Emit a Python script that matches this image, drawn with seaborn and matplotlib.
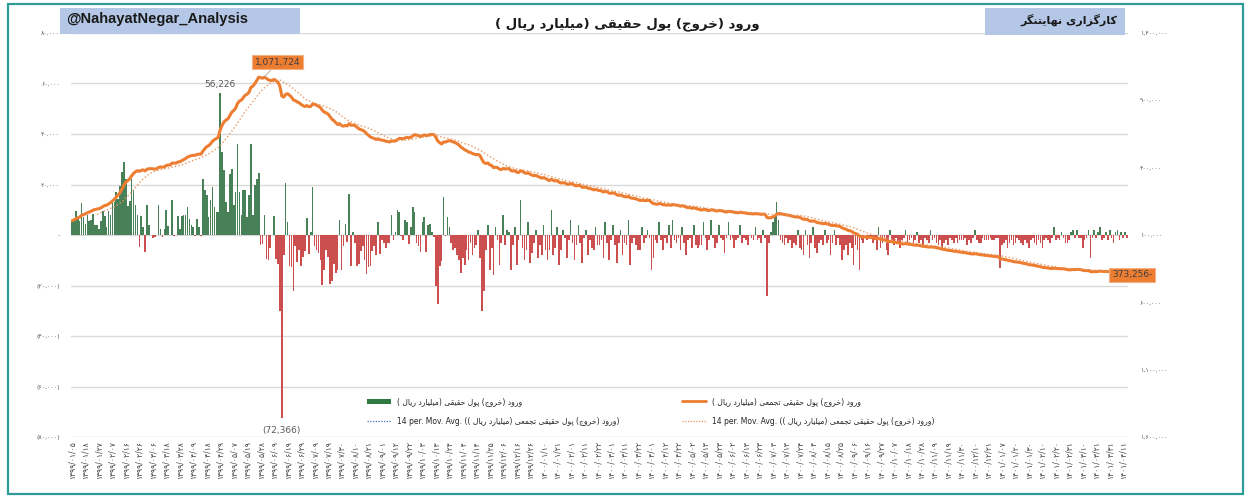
import numpy as np
import pandas as pd
import seaborn as sns
import matplotlib.pyplot as plt
from matplotlib.lines import Line2D
from matplotlib.patches import Patch, Rectangle
from matplotlib.ticker import FuncFormatter

############################## data ##############################
# daily net real-money inflow, in thousand billion rials (read off the chart)
flow_k = [
    5.5, 6.0, 9.5, 6.5, 5.5, 12.5, 7.0, 4.5, 8.0, 5.5,
    6.0, 8.5, 4.0, 4.0, 2.5, 5.7, 9.6, 7.7, 3.0, 9.6,
    8.0, 13.6, 12.9, 17.0, 14.3, 19.6, 25.0, 29.0, 22.0, 11.5,
    13.6, 22.0, 18.0, 12.0, 8.0, -4.9, 7.5, 3.0, -6.9, 12.0,
    4.0, 0.0, -1.0, -0.8, 0.0, 11.7, 2.5, -0.8, 2.5, 10.0,
    3.7, 0.0, 14.0, -0.3, 0.0, 7.7, 2.5, 7.5, 8.0, 8.0,
    11.0, 6.5, 4.0, 3.0, -0.5, 6.5, 3.0, -0.5, 22.0, 18.0,
    16.0, 7.0, 14.0, 19.0, 11.0, 9.0, 9.0, 56.226, 33.0, 25.6,
    13.0, 9.0, 24.0, 26.0, 12.0, 17.0, 36.0, 17.0, 8.0, 18.0,
    18.0, 7.0, 16.0, 36.0, 8.0, 20.0, 22.0, 24.4, -4.0, -3.5,
    8.0, -9.5, -10.0, -5.0, 0.0, 7.7, -9.5, -11.5, -30.0, -72.366,
    -8.1, 20.5, 5.3, -12.2, -12.8, -22.3, -4.2, -10.5, -5.9, -12.2,
    -8.8, -6.5, 6.6, -7.6, 1.1, 19.0, -4.2, -5.9, -7.0, -9.8,
    -19.8, -13.8, -5.9, -8.7, -19.3, -18.3, -11.5, -14.9, -13.8, 6.0,
    -13.8, -4.2, 4.4, -2.6, 16.4, -12.2, 1.1, -3.1, -12.2, -11.5,
    -6.5, -4.2, -9.8, -15.4, -12.8, -12.2, -6.5, -4.2, -8.1, 5.3,
    -7.6, -2.0, -3.0, -5.0, -3.0, -3.0, 8.0, -2.0, 1.0, 10.0,
    9.0, -0.5, -2.0, 6.0, 5.0, -3.5, 3.0, 11.0, 9.0, -3.0,
    -4.2, -6.6, 5.3, 7.0, -6.6, 4.0, 4.4, 1.1, -0.9, -20.0,
    -27.4, -12.3, -10.2, 15.1, -0.5, 7.0, 3.0, -3.0, -6.0, -5.0,
    -8.0, -10.0, -15.0,
    -9, -12, -6, -10, -3, -8, -5, -4, 2, -9,
    -30, -22, -6, 4, -14, -5, -16, 3, -2, -12, -3, 8, -4, 2, 1,
    -14, -4, 3, -12, -2, 14, -5, -10, -6, 5, -11, -7, -3, 2, -9, -4, -8, 4, -6, -10, -6,
    10, -8, -5, 3, -12, -6, 2, -1, -9, -2, 6, -3, -10, -4, 4, -3, -11, -1, 2, -8, -2, -5, -6, 3, -4, -4,
    -2, -9, 5, -3, -10, -2, 4, -4, -11, -3, 2, -8, -3, -4, 6, -12, -3, -1, -4, -6, -6, 3, -3, -1, 2, -1,
    -14, -9, -2, -3, 5, -2, -6, -1, -3, 4, -5, 6, -2, -3, -1, -6, 3, -3, -8, -2, -1, -5, 4, -4, -5, -4,
    -4, 5, -1, -6, -2, 6, -1, -5, -3, 4, -1, -2, -7, -1, 5, -2, -1, -5, -2, -1, 4, -3, -1, -2, -4, 0,
    -1, -2, 3, -2, -1, -3, 2, -1, -24, -3, 1, 5, 8, 13, 6, -2, -3, -4, -1, -3, -2, -5, -3, -4, 2, -5,
    -6, -8, 2, -4, -9, -3, 3, -5, -7, -3, -2, -4, 2, -3, -2, -8, -3, 2, -4, -1, -4,
    -10, -6, -4, -8, -3, -5, -12, -4, -6, -14, -2, -3, 0, -2, -1, -1,
    -3, -2, -6, 3, -5, -3, -2, -6, -8, 2, -2, -4, -1, -3, -5,
    -2, -1, 2, -3, -2, -1, -4, -2, 1, -3, -2, -4, -1, -2, -3, 2, -2, -1, -3, -4, -2, -5, -3, -2, -4, -1,
    -2, -3, -1, -3, -2, -2, -2, -1, -4, -2, -3, -1, 2, -2, -3, -3, -1, -2, -2, -2, -1, -2, -2, -1, -1, -13,
    -4, -3, -2, -5, -3, -2, -4, -3, -1, -2, -3, -4, -2, -3, -5, -2, -1, -3, -4, -2, -3, -5, -2, -1, -2, -3,
    -1, 3, -2, -1, -2, 1, -1, -3, -3, -2, 1, 2, -1, 2, -1, -1,
    -5, -2, -1, 2, -9, -1, 2, -1, 1, 3, -2, -1, 1, -2, 2, -1, -3, 1, 2, -2, 1, -1, 1, -1,
]

# one date label every 7 trading days
tick_dates = [
    '1399/01/05', '1399/01/18', '1399/01/27', '1399/02/07', '1399/02/16', '1399/02/26', '1399/03/06', '1399/03/18', '1399/03/28', '1399/04/09',
    '1399/04/18', '1399/04/29', '1399/05/07', '1399/05/19', '1399/05/28', '1399/06/09', '1399/06/19', '1399/06/29', '1399/07/09', '1399/07/19',
    '1399/07/30', '1399/08/10', '1399/08/21', '1399/09/01', '1399/09/12', '1399/09/22', '1399/10/03', '1399/10/13', '1399/10/24', '1399/11/04',
    '1399/11/14', '1399/11/25', '1399/12/06', '1399/12/16', '1399/12/26', '1400/01/10', '1400/01/21', '1400/02/01', '1400/02/11', '1400/02/22',
    '1400/03/01', '1400/03/11', '1400/03/22', '1400/04/01', '1400/04/12', '1400/04/22', '1400/05/02', '1400/05/13', '1400/05/23', '1400/06/02',
    '1400/06/13', '1400/06/23', '1400/07/03', '1400/07/13', '1400/07/24', '1400/08/04', '1400/08/15', '1400/08/25', '1400/09/06', '1400/09/16',
    '1400/09/27', '1400/10/07', '1400/10/18', '1400/10/28', '1400/11/09', '1400/11/19', '1400/11/30', '1400/12/10', '1400/12/21', '1401/01/07',
    '1401/01/20', '1401/01/30', '1401/02/10', '1401/02/20', '1401/02/31', '1401/03/10', '1401/03/21', '1401/03/31', '1401/04/11',
]

peak_label = '1,071,724'
end_label = '373,256-'

handle_txt = '@NahayatNegar_Analysis'
title_fa = 'ورود (خروج) پول حقیقی (میلیارد ریال )'
broker_fa = 'کارگزاری نهایتنگر'
flow_name = 'ورود (خروج) پول حقیقی (میلیارد ریال )'
cum_name = 'ورود (خروج) پول حقیقی تجمعی (میلیارد ریال )'
ma_name = '(ورود (خروج) پول حقیقی تجمعی (میلیارد ریال ))'

############################## persian text helpers ##############################
# matplotlib has no arabic shaping, so pick presentation forms by hand and reverse
FORMS = {
    '\u0627': ('\uFE8D', '\uFE8E', None, None),
    '\u0628': ('\uFE8F', '\uFE90', '\uFE91', '\uFE92'),
    '\u067E': ('\uFB56', '\uFB57', '\uFB58', '\uFB59'),
    '\u062A': ('\uFE95', '\uFE96', '\uFE97', '\uFE98'),
    '\u062C': ('\uFE9D', '\uFE9E', '\uFE9F', '\uFEA0'),
    '\u062D': ('\uFEA1', '\uFEA2', '\uFEA3', '\uFEA4'),
    '\u062E': ('\uFEA5', '\uFEA6', '\uFEA7', '\uFEA8'),
    '\u062F': ('\uFEA9', '\uFEAA', None, None),
    '\u0631': ('\uFEAD', '\uFEAE', None, None),
    '\u0632': ('\uFEAF', '\uFEB0', None, None),
    '\u0639': ('\uFEC9', '\uFECA', '\uFECB', '\uFECC'),
    '\u0642': ('\uFED5', '\uFED6', '\uFED7', '\uFED8'),
    '\u06A9': ('\uFB8E', '\uFB8F', '\uFB90', '\uFB91'),
    '\u06AF': ('\uFB92', '\uFB93', '\uFB94', '\uFB95'),
    '\u0644': ('\uFEDD', '\uFEDE', '\uFEDF', '\uFEE0'),
    '\u0645': ('\uFEE1', '\uFEE2', '\uFEE3', '\uFEE4'),
    '\u0646': ('\uFEE5', '\uFEE6', '\uFEE7', '\uFEE8'),
    '\u0647': ('\uFEE9', '\uFEEA', '\uFEEB', '\uFEEC'),
    '\u0648': ('\uFEED', '\uFEEE', None, None),
    '\u06CC': ('\uFBFC', '\uFBFD', '\uFBFE', '\uFBFF'),
}


def rtl(s):
    s = s.replace('\u064A', '\u06CC').replace('\u0643', '\u06A9')
    out = []
    for i, ch in enumerate(s):
        if ch not in FORMS:
            out.append(ch)
            continue
        f = FORMS[ch]
        prev = s[i - 1] if i > 0 else ''
        nxt = s[i + 1] if i + 1 < len(s) else ''
        jp = prev in FORMS and FORMS[prev][2] is not None
        jn = nxt in FORMS and f[2] is not None
        if jp and jn:
            out.append(f[3])
        elif jp:
            out.append(f[1])
        elif jn:
            out.append(f[2])
        else:
            out.append(f[0])
    vis = ''.join(out)[::-1]
    return vis.translate(str.maketrans('()', ')('))


FA = str.maketrans('0123456789', '۰۱۲۳۴۵۶۷۸۹')

############################## series ##############################
flow = np.array(flow_k) * 1000
n = len(flow)
day = np.arange(n)
cum = np.cumsum(flow)
ma14 = pd.Series(cum).rolling(14).mean()
df = pd.DataFrame({'day': day, 'flow': flow, 'sign': np.where(flow >= 0, 'in', 'out')})

GREEN = '#3f8a54'
RED = '#e03a3a'
ORANGE = '#ED7D31'

sns.set_style('white')
plt.rcParams['font.family'] = ['DejaVu Sans']

fig = plt.figure(figsize=(12.5, 4.98), dpi=100)
ax = fig.add_axes([71 / 1250, 1 - 437 / 498, (1128 - 71) / 1250, (437 - 33) / 498])

sns.barplot(data=df, x='day', y='flow', hue='sign', palette={'in': GREEN, 'out': RED},
            native_scale=True, width=0.85, dodge=False, legend=False, errorbar=None,
            linewidth=0, ax=ax)

ax2 = ax.twinx()
sns.lineplot(x=day, y=cum, color=ORANGE, lw=2.2, ax=ax2)
sns.lineplot(x=day, y=ma14, color='#E8965F', lw=1.0, linestyle=(0, (1, 1.6)), ax=ax2)

# axes
ax.set_xlim(-0.5, n - 0.5)
ax.set_ylim(-80000, 80000)
ax.set_yticks(np.arange(-80000, 80001, 20000))
ax2.set_ylim(-1600000, 1400000)
ax2.set_yticks(np.arange(-1600000, 1400001, 500000))


def left_fmt(v, pos):
    if v == 0:
        return '-'
    s = f'{abs(v):,.0f}'.translate(FA)
    return s if v > 0 else '(' + s + ')'


def right_fmt(v, pos):
    return f'{abs(v):,.0f}'.translate(FA)


ax.yaxis.set_major_formatter(FuncFormatter(left_fmt))
ax2.yaxis.set_major_formatter(FuncFormatter(right_fmt))
ax.set_xticks(range(0, n, 7))
ax.set_xticklabels([d.translate(FA) for d in tick_dates], rotation=90)
ax.tick_params(axis='x', length=0, labelsize=5.5, labelcolor='#404040', pad=3)
ax.tick_params(axis='y', length=0, labelsize=4.5, labelcolor='#595959', pad=8)
ax2.tick_params(axis='y', length=0, labelsize=4.5, labelcolor='#595959', pad=8.5)
ax.set_xlabel('')
ax.set_ylabel('')
ax2.set_ylabel('')
ax.set_axisbelow(True)
ax.grid(axis='y', color='#d9d9d9', lw=1.0)
ax.grid(axis='x', visible=False)
for a in (ax, ax2):
    for sp in a.spines.values():
        sp.set_visible(False)

# data labels
imax = int(np.argmax(flow))
imin = int(np.argmin(flow))
ax.annotate(f'{flow[imax]:,.0f}', xy=(imax, flow[imax]), xytext=(0, 9), textcoords='offset pixels',
            ha='center', va='center', fontsize=6.5, color='#595959')
ax.annotate(f'({-flow[imin]:,.0f})', xy=(imin, flow[imin]), xytext=(0, -13), textcoords='offset pixels',
            ha='center', va='center', fontsize=6.5, color='#595959')

ipk = int(np.argmax(cum))
ax2.annotate(peak_label, xy=(ipk, cum[ipk]), xytext=(13, 15), textcoords='offset pixels',
             ha='center', va='center', fontsize=6.5, color='#404040',
             bbox=dict(boxstyle='square,pad=0.3', fc=ORANGE, ec='#f4b183', lw=0.8),
             arrowprops=dict(arrowstyle='-', color='#a6a6a6', lw=0.6, shrinkA=0, shrinkB=0))
ax2.annotate(end_label, xy=(n - 1, cum[-1]), xytext=(5, -3), textcoords='offset pixels',
             ha='center', va='center', fontsize=6.5, color='#404040',
             bbox=dict(boxstyle='square,pad=0.3', fc=ORANGE, ec='#f4b183', lw=0.8))

# legend
handles = [Patch(facecolor='#2f7a40', edgecolor='none'),
           Line2D([], [], color='#4472C4', lw=0.9, linestyle=(0, (1, 1.2))),
           Line2D([], [], color=ORANGE, lw=2),
           Line2D([], [], color='#E8965F', lw=0.9, linestyle=(0, (1, 1.2)))]
labels = [rtl(flow_name), '14 per. Mov. Avg. ' + rtl(ma_name), rtl(cum_name), '14 per. Mov. Avg. ' + rtl(ma_name)]
ax2.legend(handles, labels, ncol=2, loc='upper left', bbox_to_anchor=(367 / 1250, 1 - 397 / 498),
           bbox_transform=fig.transFigure, frameon=False, fontsize=5.5, handlelength=3.1,
           columnspacing=8.2, labelspacing=1.45, borderpad=0, borderaxespad=0)

# header boxes and title
fig.add_artist(Rectangle((60 / 1250, 1 - 34 / 498), 240 / 1250, 26 / 498, transform=fig.transFigure,
                         fc='#B4C7E7', ec='none', zorder=5))
fig.text(66 / 1250, 1 - 19 / 498, handle_txt, ha='left', va='center', fontsize=10.6, fontweight='bold',
         family=['Liberation Sans', 'DejaVu Sans'], color='#1a1a1a', zorder=6)
fig.add_artist(Rectangle((985 / 1250, 1 - 35 / 498), 140 / 1250, 27 / 498, transform=fig.transFigure,
                         fc='#B4C7E7', ec='none', zorder=5))
fig.text(1117 / 1250, 1 - 20 / 498, rtl(broker_fa), ha='right', va='center', fontsize=8,
         fontweight='bold', color='#1a1a1a', zorder=6)
fig.text(627 / 1250, 1 - 24 / 498, rtl(title_fa), ha='center', va='center', fontsize=9.5,
         fontweight='bold', color='#1a1a1a')

# teal frame
fig.add_artist(Rectangle((8 / 1250, 1 - 494 / 498), 1235 / 1250, 490 / 498, transform=fig.transFigure,
                         fc='none', ec='#2E9C96', lw=1.6))

plt.savefig('out.png', dpi=100)
